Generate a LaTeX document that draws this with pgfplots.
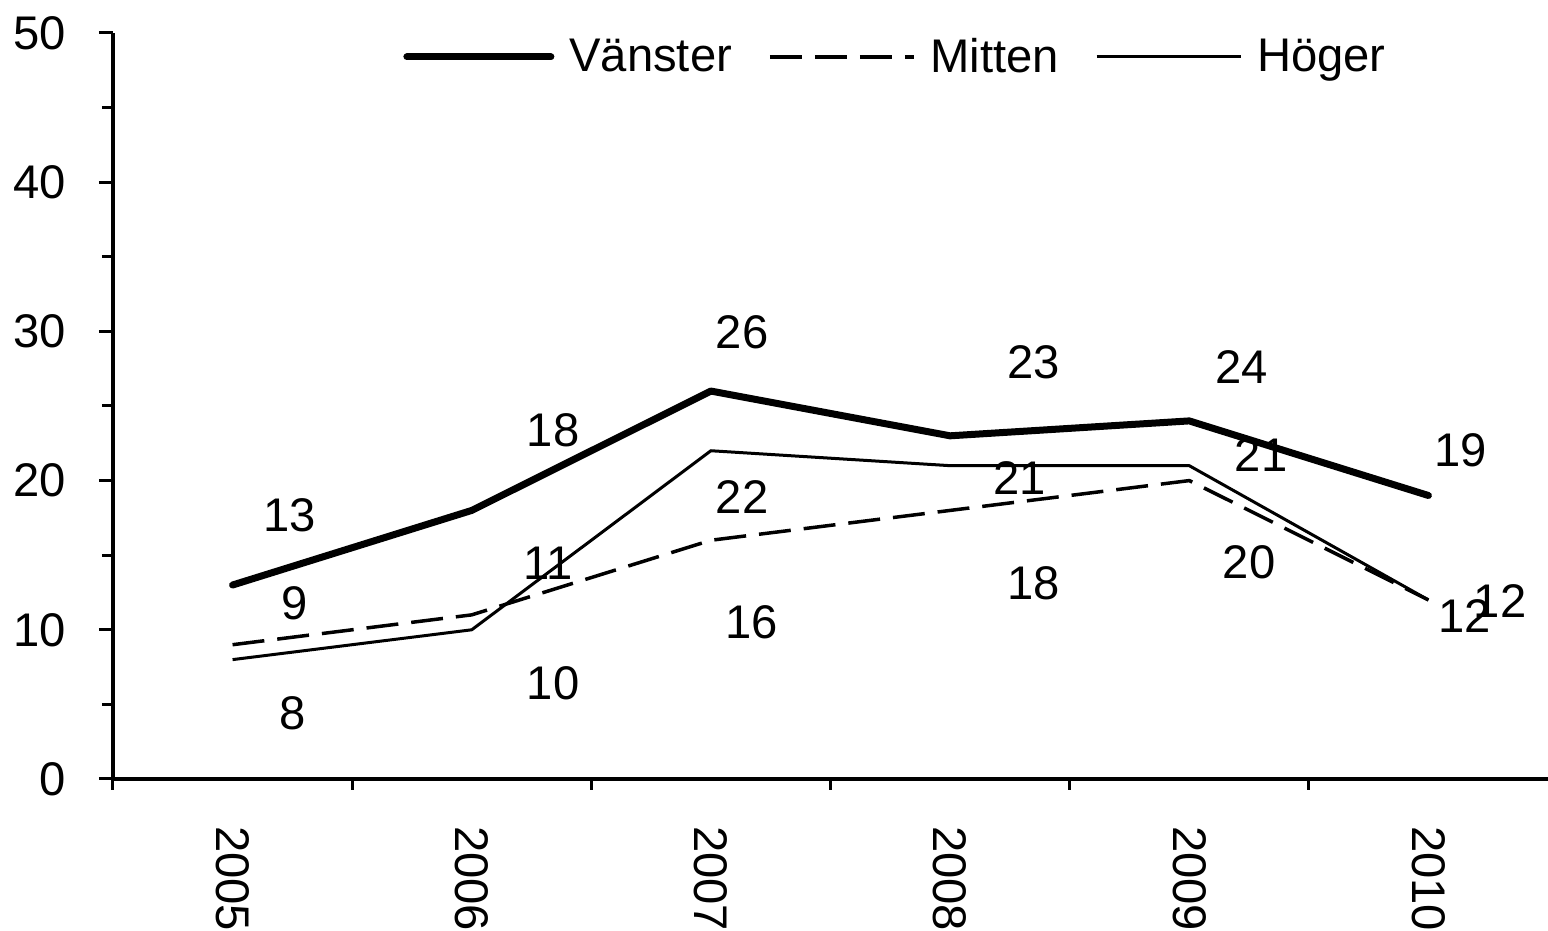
\documentclass[border=0pt]{standalone}
\usepackage{pgfplots}
\pgfplotsset{compat=1.18}
\usepackage{fontspec}
\setmainfont{Liberation Sans}
\newcommand{\bigf}{\fontsize{23.6}{28}\selectfont}
\begin{document}
\begin{tikzpicture}
\begin{axis}[
  name=ax,
  scale only axis,
  width=717.5pt, height=373pt,
  xmin=-0.5, xmax=5.5, ymin=0, ymax=50,
  axis x line*=bottom, axis y line*=left,
  axis line style={line width=2pt, black},
  xtick={0,...,5}, xticklabels={2005,2006,2007,2008,2009,2010},
  major x tick style={draw=none},
  minor xtick={-0.5,0.5,1.5,2.5,3.5,4.5},
  ytick={0,10,...,50}, minor ytick={5,15,25,35,45},
  tick align=outside,
  major tick length=7pt, minor tick length=5.5pt,
  tick style={line width=1.5pt, black},
  xticklabel style={rotate=-90, anchor=west, font=\bigf},
  yticklabel style={font=\bigf},
  xticklabel shift=13pt,
  yticklabel shift=13pt,
  /pgf/number format/assume math mode=true,
  clip=false,
  legend style={draw=none, fill=none, at={(0.546,0.968)}, anchor=center,
    font=\bigf, /tikz/every even column/.append style={column sep=16pt},
    /tikz/every odd column/.append style={column sep=5.5pt}},
  legend columns=3,
  legend image code/.code={\draw[#1] (0pt,0pt) -- (72pt,0pt);},
]
\addplot[black, line width=3.5pt, line join=round, line cap=round] coordinates {(0,13) (1,18) (2,26) (3,23) (4,24) (5,19)};
\addlegendentry{Vänster}
\addplot[black, line width=1.75pt, dash pattern=on 16pt off 6.5pt, line join=round] coordinates {(0,9) (1,11) (2,16) (3,18) (4,20) (5,12)};
\addlegendentry{Mitten}
\addplot[black, line width=1.5pt, line join=round] coordinates {(0,8) (1,10) (2,22) (3,21) (4,21) (5,12)};
\addlegendentry{Höger}
% data labels
\begin{scope}[every node/.style={font=\bigf, inner sep=0pt}]
\node at (axis cs:0.24,17.69) {13};
\node at (axis cs:1.34,23.39) {18};
\node at (axis cs:2.13,29.96) {26};
\node at (axis cs:3.35,27.95) {23};
\node at (axis cs:4.22,27.61) {24};
\node at (axis cs:5.136,22.05) {19};
\node at (axis cs:0.26,11.80) {9};
\node at (axis cs:1.32,14.48) {11};
\node at (axis cs:2.17,10.52) {16};
\node at (axis cs:3.35,13.14) {18};
\node at (axis cs:4.25,14.54) {20};
\node at (axis cs:5.30,11.93) {12};
\node at (axis cs:0.25,4.42) {8};
\node at (axis cs:1.34,6.43) {10};
\node at (axis cs:2.13,18.90) {22};
\node at (axis cs:3.29,20.17) {21};
\node at (axis cs:4.30,21.72) {21};
\node at (axis cs:5.15,10.92) {12};
\end{scope}
\end{axis}
\pgfresetboundingbox
\path[use as bounding box] ([xshift=-56.5pt,yshift=-76pt]ax.south west) rectangle ([yshift=16.5pt]ax.north east);
\end{tikzpicture}
\end{document}
